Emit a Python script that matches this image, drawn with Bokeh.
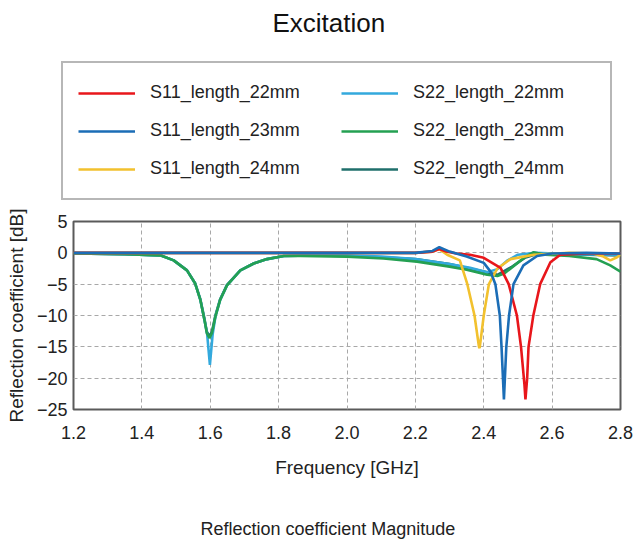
from bokeh.plotting import figure
from bokeh.models import Legend, LegendItem, Title, FixedTicker, NumeralTickFormatter, Range1d
from bokeh.layouts import column
from bokeh.embed import file_html
from bokeh.resources import INLINE

# ---- data ----
f_s11_22 = [1.2, 1.4, 1.6, 1.8, 2.0, 2.2, 2.25, 2.27, 2.29, 2.32, 2.36, 2.40, 2.449, 2.473, 2.497, 2.509, 2.519, 2.522, 2.527, 2.531, 2.545, 2.565, 2.595, 2.624, 2.7, 2.8]
s11_22   = [0.0, 0.0, 0.0, 0.0, 0.0, 0.0, 0.2, 0.6, 0.2, -0.1, -0.3, -0.8, -2.4, -5.0, -10.0, -15.0, -21.0, -23.4, -20.0, -15.0, -10.0, -5.0, -1.5, -0.3, -0.1, -0.1]

f_s11_23 = [1.2, 1.4, 1.6, 1.8, 2.0, 2.2, 2.25, 2.27, 2.30, 2.35, 2.40, 2.42, 2.434, 2.447, 2.452, 2.459, 2.466, 2.474, 2.487, 2.516, 2.556, 2.6, 2.7, 2.8]
s11_23   = [0.0, 0.0, 0.0, 0.0, 0.0, 0.0, 0.3, 0.9, 0.2, -0.6, -1.6, -3.0, -5.0, -10.0, -15.0, -23.4, -15.0, -10.0, -5.0, -2.0, -0.5, -0.1, 0.0, -0.1]

f_s11_24 = [1.2, 1.4, 1.6, 1.8, 2.0, 2.2, 2.25, 2.27, 2.293, 2.33, 2.352, 2.373, 2.386, 2.388, 2.40, 2.415, 2.44, 2.478, 2.546, 2.65, 2.72, 2.75, 2.77, 2.79, 2.8]
s11_24   = [0.0, 0.0, 0.0, 0.0, 0.0, 0.0, 0.2, 0.6, -0.3, -1.2, -5.0, -10.0, -15.0, -15.2, -10.0, -5.0, -2.5, -1.0, -0.3, 0.0, -0.1, -0.6, -1.2, -0.7, -0.3]

f_s22_22 = [1.2, 1.35, 1.454, 1.493, 1.532, 1.556, 1.571, 1.583, 1.591, 1.599, 1.607, 1.615, 1.629, 1.649, 1.688, 1.727, 1.766, 1.815, 1.9, 2.0, 2.1, 2.2, 2.3, 2.36, 2.41, 2.44, 2.47, 2.5, 2.55, 2.65, 2.8]
s22_22   = [-0.1, -0.2, -0.4, -1.2, -2.8, -4.9, -7.5, -10.7, -13.0, -17.9, -13.0, -10.2, -7.5, -5.2, -2.8, -1.7, -1.0, -0.5, -0.4, -0.4, -0.6, -1.0, -1.8, -2.4, -3.1, -2.6, -1.2, -0.3, 0.0, -0.2, -0.3]

f_s22_23 = [1.2, 1.35, 1.454, 1.493, 1.532, 1.556, 1.571, 1.583, 1.59, 1.598, 1.605, 1.615, 1.629, 1.649, 1.688, 1.727, 1.766, 1.815, 1.864, 2.0, 2.107, 2.205, 2.30, 2.35, 2.41, 2.44, 2.46, 2.49, 2.52, 2.546, 2.58, 2.65, 2.73, 2.77, 2.8]
s22_23   = [-0.1, -0.2, -0.4, -1.2, -2.8, -4.9, -7.5, -10.7, -12.8, -13.6, -12.8, -10.2, -7.5, -5.2, -2.8, -1.7, -1.0, -0.5, -0.5, -0.6, -0.9, -1.4, -2.2, -2.7, -3.5, -3.7, -3.3, -2.0, -0.7, 0.1, -0.3, -0.5, -1.0, -2.0, -3.0]

f_s22_24 = [1.2, 1.35, 1.454, 1.493, 1.532, 1.556, 1.571, 1.583, 1.59, 1.598, 1.605, 1.615, 1.629, 1.649, 1.688, 1.727, 1.766, 1.815, 1.9, 2.0, 2.1, 2.2, 2.3, 2.4, 2.44, 2.48, 2.52, 2.56, 2.7, 2.8]
s22_24   = [-0.1, -0.2, -0.4, -1.2, -2.8, -4.9, -7.4, -10.5, -12.6, -13.3, -12.6, -10.0, -7.4, -5.1, -2.8, -1.7, -1.0, -0.5, -0.4, -0.5, -0.7, -1.0, -1.8, -3.0, -3.5, -2.3, -0.8, -0.1, -0.3, -0.4]

x_ticks = [1.2, 1.4, 1.6, 1.8, 2.0, 2.2, 2.4, 2.6, 2.8]
y_ticks = [5, 0, -5, -10, -15, -20, -25]

series_labels = ["S11_length_22mm", "S11_length_23mm", "S11_length_24mm",
                 "S22_length_22mm", "S22_length_23mm", "S22_length_24mm"]
series_colors = ["#e8161b", "#1b6db6", "#f2c12e", "#33a9dd", "#24a052", "#1f6f6b"]
series_f = [f_s11_22, f_s11_23, f_s11_24, f_s22_22, f_s22_23, f_s22_24]
series_y = [s11_22, s11_23, s11_24, s22_22, s22_23, s22_24]

FONT = "Liberation Sans"
LW = 2.6

# ---------- top figure: title + legend ----------
top = figure(width=633, height=205, output_backend="svg", toolbar_location=None,
             x_axis_type=None, y_axis_type=None, x_range=Range1d(0, 1), y_range=Range1d(0, 1),
             min_border=0, outline_line_color=None, frame_align=False,
             background_fill_color="white", border_fill_color="white")
top.title.text = "Excitation"
top.title.align = "left"
top.title.offset = 272
top.title.text_font = FONT
top.title.text_font_size = "26px"
top.title.text_font_style = "normal"
top.title.text_color = "#111111"
top.title.standoff = 10

legend_items = []
for lab, col, fx, fy in zip(series_labels, series_colors, series_f, series_y):
    # same series, outside this panel's ranges: only their legend glyphs show
    r = top.line(fx, fy, line_color=col, line_width=LW)
    legend_items.append(LegendItem(label=lab, renderers=[r]))

legend = Legend(items=legend_items, location=(61, 5), orientation="vertical", nrows=3,
                margin=0, padding=15, spacing=9, label_height=29, label_width=182,
                glyph_width=57, glyph_height=20, label_standoff=15,
                label_text_font=FONT, label_text_font_size="18px", label_text_color="#222222",
                border_line_color="#707070", border_line_width=2,
                background_fill_color="white", background_fill_alpha=1.0)
top.add_layout(legend, "center")

# ---------- main figure ----------
p = figure(width=633, height=334, output_backend="svg", toolbar_location=None, title=None,
           x_range=Range1d(1.2, 2.8), y_range=Range1d(-25, 5), frame_align=False,
           min_border_left=73, min_border_right=13, min_border_top=16, min_border_bottom=129,
           background_fill_color="white", border_fill_color="white")

p.outline_line_color = "#5a5a5a"
p.outline_line_width = 2

for ax, ticks in ((p.xaxis, x_ticks), (p.yaxis, y_ticks)):
    ax.ticker = FixedTicker(ticks=ticks)
    ax.major_tick_out = 0
    ax.major_tick_in = 0
    ax.minor_tick_out = 0
    ax.minor_tick_in = 0
    ax.axis_line_color = None
    ax.major_label_text_font = FONT
    ax.major_label_text_font_size = "18px"
    ax.major_label_text_color = "#222222"
    ax.axis_label_text_font = FONT
    ax.axis_label_text_font_size = "19px"
    ax.axis_label_text_font_style = "normal"
    ax.axis_label_text_color = "#222222"

p.xaxis.formatter = NumeralTickFormatter(format="0.0")
p.xaxis.axis_label = "Frequency [GHz]"
p.xaxis.major_label_standoff = 16
p.xaxis.axis_label_standoff = 15
p.yaxis.axis_label = "Reflection coefficient [dB]"
p.yaxis.major_label_standoff = 6
p.yaxis.axis_label_standoff = 7

p.xgrid.grid_line_color = "#a8a8a8"
p.ygrid.grid_line_color = "#a8a8a8"
p.xgrid.grid_line_dash = "4 3"
p.ygrid.grid_line_dash = "4 3"
p.xgrid.grid_line_width = 1
p.ygrid.grid_line_width = 1

for i in [5, 3, 4, 2, 0, 1]:
    p.line(series_f[i], series_y[i], line_color=series_colors[i], line_width=LW)

spacer = Title(text=" ", standoff=13, text_font=FONT, text_font_size="18px")
p.add_layout(spacer, "below")
cap = Title(text="Reflection coefficient Magnitude", align="left", offset=127,
            text_font=FONT, text_font_size="18px", text_font_style="normal",
            text_color="#222222", standoff=2)
p.add_layout(cap, "below")

layout = column(top, p, spacing=0)
open("out.html", "w").write(file_html(layout, INLINE))
